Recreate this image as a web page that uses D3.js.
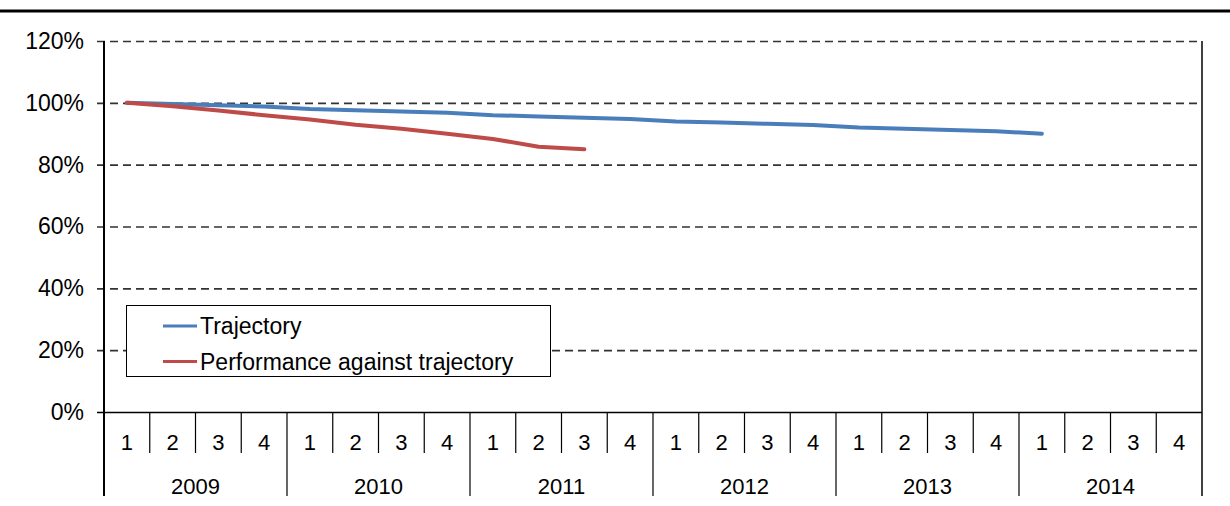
<!DOCTYPE html>
<html>
<head>
<meta charset="utf-8">
<script src="https://cdn.jsdelivr.net/npm/d3@7"></script>
<style>
  html, body { margin: 0; padding: 0; background: #fff; }
  svg { display: block; font-family: "Liberation Sans", Arial, sans-serif; }
</style>
</head>
<body>
<svg id="chart" width="1230" height="506"></svg>
<script>
// Quarterly periods, 2009 Q1 to 2014 Q4
const years = ["2009", "2010", "2011", "2012", "2013", "2014"];
const quarters = ["1", "2", "3", "4"];
const periods = years.flatMap(y => quarters.map(q => y + "-" + q));

// Series values (percent of baseline)
const trajectory = [
  100, 99.6, 99.2, 98.8,
  98.0, 97.6, 97.2, 96.8,
  96.0, 95.6, 95.2, 94.8,
  94.0, 93.6, 93.2, 92.8,
  92.0, 91.6, 91.2, 90.8,
  90.0
];
const performance = [
  100, 98.9, 97.5, 96.0,
  94.6, 92.9, 91.6, 90.0,
  88.3, 85.8, 85.0
];

const yTicks = [0, 20, 40, 60, 80, 100, 120];
const seriesNames = ["Trajectory", "Performance against trajectory"];
const seriesColors = ["#4a7ebb", "#be4b48"];

const svg = d3.select("#chart");
const plotLeft = 104, plotRight = 1202, plotTop = 41, plotBottom = 412;

const x = d3.scaleBand().domain(periods).range([plotLeft, plotRight]).padding(0);
const y = d3.scaleLinear().domain([0, 120]).range([plotBottom, plotTop]);

// Rule across the top of the page
svg.append("line")
  .attr("x1", 0).attr("x2", 1230).attr("y1", 11).attr("y2", 11)
  .attr("stroke", "#000").attr("stroke-width", 3);

// Dashed gridlines with short ticks out to the left
const yAxis = d3.axisLeft(y).tickValues(yTicks).tickFormat(d => d + "%")
  .tickSize(-(plotRight - plotLeft)).tickSizeOuter(0).tickPadding(20);
const gy = svg.append("g").attr("transform", `translate(${plotLeft},0)`).call(yAxis);
gy.select(".domain").remove();
gy.selectAll(".tick line")
  .attr("x1", -7)
  .attr("stroke", "#333").attr("stroke-width", 1.6)
  .attr("stroke-dasharray", d => d === 0 ? null : "8,5")
  .filter(d => d === 0).attr("stroke", "#000");
gy.selectAll(".tick text")
  .attr("font-size", 23).attr("fill", "#000")
  .attr("font-family", "'Liberation Sans', Arial, sans-serif");

// Vertical frame: value axis and right edge, continuing down through the category rows
svg.append("line").attr("x1", plotLeft).attr("x2", plotLeft).attr("y1", plotTop).attr("y2", 496)
  .attr("stroke", "#000").attr("stroke-width", 2);
svg.append("line").attr("x1", plotRight).attr("x2", plotRight).attr("y1", plotTop).attr("y2", 496)
  .attr("stroke", "#000").attr("stroke-width", 1.5);

// Two-level category axis: quarters then years
const catG = svg.append("g");
periods.forEach((p, i) => {
  if (i === 0) return;
  const xx = x(p);
  const isYear = i % 4 === 0;
  catG.append("line")
    .attr("x1", xx).attr("x2", xx)
    .attr("y1", plotBottom).attr("y2", isYear ? 496 : 453)
    .attr("stroke", "#000").attr("stroke-width", 1.2);
});
catG.selectAll("text.q").data(periods).join("text")
  .attr("class", "q")
  .attr("x", d => x(d) + x.bandwidth() / 2)
  .attr("y", 450)
  .attr("text-anchor", "middle")
  .attr("font-size", 22)
  .text(d => d.split("-")[1]);
catG.selectAll("text.yr").data(years).join("text")
  .attr("class", "yr")
  .attr("x", d => (x(d + "-1") + x(d + "-4") + x.bandwidth()) / 2)
  .attr("y", 494)
  .attr("text-anchor", "middle")
  .attr("font-size", 22)
  .text(d => d);

// Lines
const line = d3.line()
  .x((d, i) => x(periods[i]) + x.bandwidth() / 2)
  .y(d => y(d));
[trajectory, performance].forEach((vals, k) => {
  svg.append("path")
    .datum(vals)
    .attr("d", line)
    .attr("fill", "none")
    .attr("stroke", seriesColors[k])
    .attr("stroke-width", 4)
    .attr("stroke-linejoin", "round")
    .attr("stroke-linecap", "round");
});

// Legend
const lg = svg.append("g");
lg.append("rect")
  .attr("x", 126.5).attr("y", 305.5).attr("width", 424).attr("height", 71)
  .attr("fill", "#fff").attr("stroke", "#000").attr("stroke-width", 1);
seriesNames.forEach((name, k) => {
  const cy = 326 + k * 35.5;
  lg.append("line")
    .attr("x1", 163).attr("x2", 197).attr("y1", cy).attr("y2", cy)
    .attr("stroke", seriesColors[k]).attr("stroke-width", 3);
  lg.append("text")
    .attr("x", 200).attr("y", cy)
    .attr("dy", "0.35em")
    .attr("font-size", 23)
    .text(name);
});
</script>
</body>
</html>
